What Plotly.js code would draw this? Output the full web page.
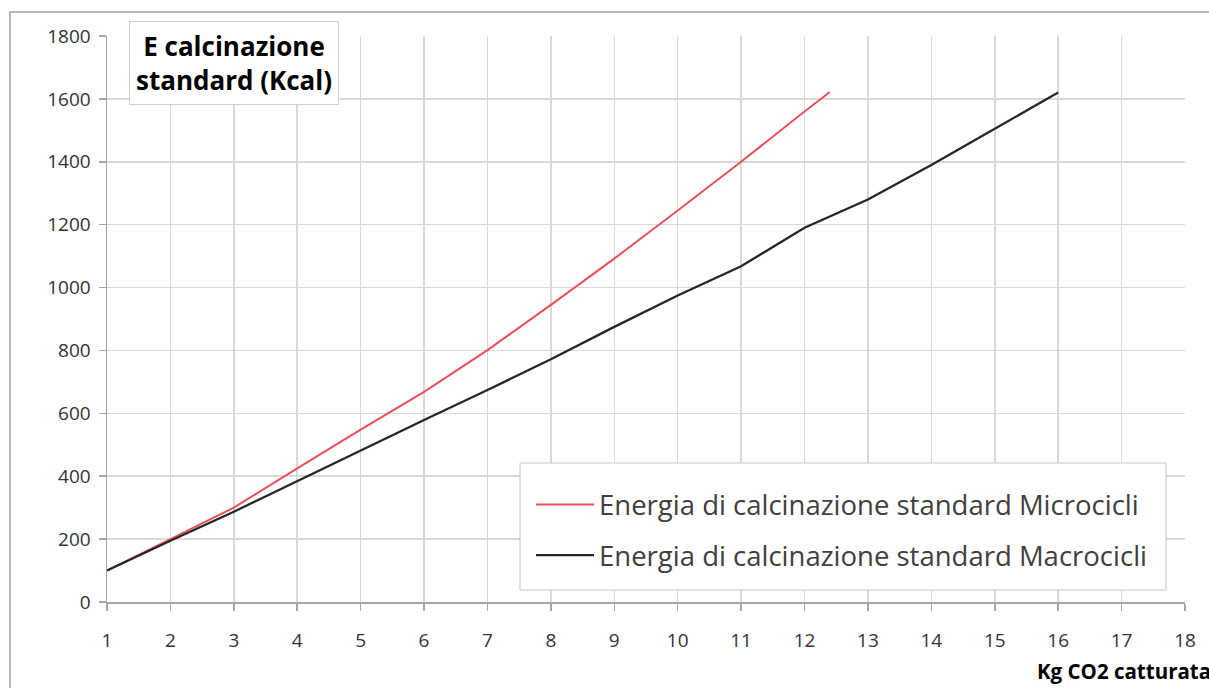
<!DOCTYPE html>
<html>
<head>
<meta charset="utf-8">
<script src="https://cdn.plot.ly/plotly-3.0.1.min.js"></script>
<style>html,body{margin:0;padding:0;background:#fff;}#chart{width:1209px;height:688px;}</style>
</head>
<body>
<div id="chart"></div>
<script>
// Data
const xMicro = [1, 2, 3, 4, 5, 6, 7, 8, 9, 10, 11, 12, 12.4];
const yMicro = [100, 200, 300, 425, 548, 668, 801, 945, 1092, 1245, 1400, 1560, 1622];
const xMacro = [1, 2, 3, 4, 5, 6, 7, 8, 9, 10, 11, 12, 13, 14, 15, 16];
const yMacro = [100, 195, 287, 385, 482, 579, 674, 772, 875, 975, 1068, 1190, 1280, 1390, 1505, 1620];
const nameMicro = "Energia di calcinazione standard Microcicli";
const nameMacro = "Energia di calcinazione standard Macrocicli";
const xTicks = [1,2,3,4,5,6,7,8,9,10,11,12,13,14,15,16,17,18];
const yTicks = [0,200,400,600,800,1000,1200,1400,1600,1800];
const chartTitle = "E calcinazione<br>standard (Kcal)";
const xTitle = "Kg CO2 catturata";

const FONT = "Open Sans, sans-serif";
// pixel helpers for paper coordinates (plot area: x 107..1185, y 36..602)
const px = v => (v - 107) / 1078;
const py = v => (602 - v) / 566;

const traces = [
  {x: xMicro, y: yMicro, type: "scatter", mode: "lines", name: nameMicro,
   line: {color: "#e8505b", width: 2}, legendgroup: "a"},
  {x: xMacro, y: yMacro, type: "scatter", mode: "lines", name: nameMacro,
   line: {color: "#262626", width: 2.3}, legendgroup: "b"}
];

const layout = {
  width: 1209, height: 688,
  margin: {l: 107, r: 24, t: 36, b: 86},
  paper_bgcolor: "#ffffff", plot_bgcolor: "#ffffff",
  font: {family: FONT, color: "#404040"},
  showlegend: true,
  legend: {
    x: px(531), y: py(480), xanchor: "left", yanchor: "top",
    bgcolor: "rgba(0,0,0,0)", borderwidth: 0,
    font: {family: FONT, size: 27.5, color: "#404040"},
    traceorder: "grouped", tracegroupgap: 12, itemwidth: 58
  },
  xaxis: {
    range: [1, 18], tickmode: "array", tickvals: xTicks, ticktext: xTicks.map(String),
    showgrid: true, gridcolor: "#d9d9d9", gridwidth: 1.5,
    showline: true, linecolor: "#a6a6a6", linewidth: 1.5,
    ticks: "outside", ticklen: 7, tickcolor: "#a6a6a6", tickwidth: 1.5,
    tickfont: {family: FONT, size: 19, color: "#333333"},
    ticklabelstandoff: 14, zeroline: false, fixedrange: true
  },
  yaxis: {
    range: [0, 1800], tickmode: "array", tickvals: yTicks, ticktext: yTicks.map(String),
    showgrid: true, gridcolor: "#d9d9d9", gridwidth: 1.5,
    showline: true, linecolor: "#a6a6a6", linewidth: 1.5,
    ticks: "outside", ticklen: 7, tickcolor: "#a6a6a6", tickwidth: 1.5,
    tickfont: {family: FONT, size: 19, color: "#333333"},
    ticklabelstandoff: 4, zeroline: false, fixedrange: true
  },
  annotations: [
    {text: "<b>" + chartTitle + "</b>", xref: "paper", yref: "paper",
     x: px(233.5), y: py(63), xanchor: "center", yanchor: "middle", showarrow: false,
     align: "center", font: {family: FONT, size: 26, color: "#000000"},
     bgcolor: "#ffffff", bordercolor: "#d0d0d0", borderwidth: 1, borderpad: 6},
    {text: "<b>" + xTitle + "</b>", xref: "paper", yref: "paper",
     x: px(1035), y: py(671), xanchor: "left", yanchor: "middle",
     showarrow: false, font: {family: FONT, size: 20.5, color: "#000000"}}
  ],
  shapes: [
    {type: "rect", xref: "paper", yref: "paper", x0: -0.09, x1: 1.03, y0: -0.17, y1: 1.0424,
     line: {color: "#a0a0a0", width: 1.5}, fillcolor: "rgba(0,0,0,0)", layer: "below"},
    {type: "rect", xref: "paper", yref: "paper", x0: px(520), x1: px(1166), y0: py(590), y1: py(463),
     line: {color: "#c8c8c8", width: 1}, fillcolor: "#ffffff", layer: "above"}
  ]
};

Plotly.newPlot("chart", traces, layout, {displayModeBar: false, staticPlot: true});
</script>
</body>
</html>
